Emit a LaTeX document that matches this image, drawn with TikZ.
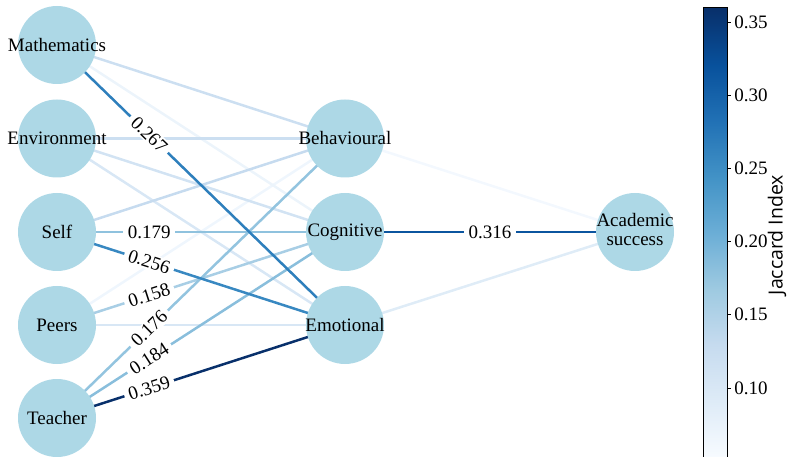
\documentclass[tikz,border=0pt]{standalone}
\usepackage{fontspec}
\setmainfont{Liberation Serif}
\newfontfamily\cbfont{Open Sans}
\usetikzlibrary{backgrounds}
\definecolor{nodeblue}{RGB}{173,216,230}
% Blues colormap stops
\definecolor{b0}{RGB}{247,251,255}
\definecolor{b1}{RGB}{222,235,247}
\definecolor{b2}{RGB}{198,219,239}
\definecolor{b3}{RGB}{158,202,225}
\definecolor{b4}{RGB}{107,174,214}
\definecolor{b5}{RGB}{66,146,198}
\definecolor{b6}{RGB}{33,113,181}
\definecolor{b7}{RGB}{8,81,156}
\definecolor{b8}{RGB}{8,48,107}
% edge colours
\definecolor{cMB}{RGB}{204,223,241}
\definecolor{cMC}{RGB}{236,244,251}
\definecolor{cME}{RGB}{46,127,188}
\definecolor{cEB}{RGB}{204,223,241}
\definecolor{cEC}{RGB}{210,227,243}
\definecolor{cEE}{RGB}{216,231,245}
\definecolor{cSB}{RGB}{198,219,239}
\definecolor{cSC}{RGB}{143,194,222}
\definecolor{cSE}{RGB}{56,136,193}
\definecolor{cPB}{RGB}{239,246,253}
\definecolor{cPC}{RGB}{168,206,229}
\definecolor{cPE}{RGB}{216,231,245}
\definecolor{cTB}{RGB}{147,196,223}
\definecolor{cTC}{RGB}{137,190,220}
\definecolor{cTE}{RGB}{8,48,107}
\definecolor{cBA}{RGB}{243,248,254}
\definecolor{cCA}{RGB}{11,85,159}
\definecolor{cEA}{RGB}{223,236,247}
\pgfdeclareverticalshading{bluescb}{100bp}{color(0bp)=(b0); color(25bp)=(b0); color(31.25bp)=(b1); color(37.5bp)=(b2); color(43.75bp)=(b3); color(50bp)=(b4); color(56.25bp)=(b5); color(62.5bp)=(b6); color(68.75bp)=(b7); color(75bp)=(b8); color(100bp)=(b8)}
\newcommand{\zw}[1]{\makebox[0pt][c]{#1}}
\begin{document}
\begin{tikzpicture}[x=1pt,y=-1pt,
  vnode/.style={circle,fill=nodeblue,minimum size=78pt,inner sep=0pt,
    font=\fontsize{19}{19}\selectfont},
  edge/.style={line width=2.5pt},
  wlabel/.style={fill=white,inner xsep=4.5pt,inner ysep=1.5pt,
    font=\fontsize{19}{19}\selectfont,sloped,pos=0.32},
  cbtick/.style={line width=0.8pt},
  cblabel/.style={anchor=west,inner xsep=3pt,font=\fontsize{19}{19}\selectfont}]
\useasboundingbox (0,0) rectangle (793,457);
% nodes
\node[vnode] (mat) at (57,45) {\zw{Mathematics}};
\node[vnode] (env) at (57,138.5) {\zw{Environment}};
\node[vnode] (slf) at (57,232) {\zw{Self}};
\node[vnode] (prs) at (57,325) {\zw{Peers}};
\node[vnode] (tch) at (57,418) {\zw{Teacher}};
\node[vnode] (beh) at (345,138.5) {\zw{Behavioural}};
\node[vnode] (cog) at (345,232) {\zw{Cognitive}};
\node[vnode] (emo) at (345,325) {\zw{Emotional}};
\node[vnode] (aca) at (635,232) {\zw{\begin{tabular}{@{}c@{}}Academic\\success\end{tabular}}};
% edges
\begin{scope}[on background layer]
\draw[edge,cBA] (beh.center) -- (aca.center);
\draw[edge,cPB] (prs.center) -- (beh.center);
\draw[edge,cMC] (mat.center) -- (cog.center);
\draw[edge,cEA] (emo.center) -- (aca.center);
\draw[edge,cEE] (env.center) -- (emo.center);
\draw[edge,cPE] (prs.center) -- (emo.center);
\draw[edge,cEC] (env.center) -- (cog.center);
\draw[edge,cMB] (mat.center) -- (beh.center);
\draw[edge,cEB] (env.center) -- (beh.center);
\draw[edge,cSB] (slf.center) -- (beh.center);
\draw[edge,cPC] (prs.center) -- (cog.center);
\draw[edge,cTB] (tch.center) -- (beh.center);
\draw[edge,cSC] (slf.center) -- (cog.center);
\draw[edge,cTC] (tch.center) -- (cog.center);
\draw[edge,cSE] (slf.center) -- (emo.center);
\draw[edge,cME] (mat.center) -- (emo.center);
\draw[edge,cCA] (cog.center) -- (aca.center);
\draw[edge,cTE] (tch.center) -- (emo.center);
\end{scope}
% edge labels
\path (mat.center) -- (emo.center) node[wlabel] (l1) {0.267};
\path (slf.center) -- (cog.center) node[wlabel] (l2) {0.179};
\path (slf.center) -- (emo.center) node[wlabel] (l3) {0.256};
\path (prs.center) -- (cog.center) node[wlabel] (l4) {0.158};
\path (tch.center) -- (beh.center) node[wlabel] (l5) {0.176};
\path (tch.center) -- (cog.center) node[wlabel] (l6) {0.184};
\path (tch.center) -- (emo.center) node[wlabel] (l7) {0.359};
\path (cog.center) -- (aca.center) node[wlabel,pos=0.5] (l8) {0.316};
% colour bar
\shade[shading=bluescb] (703,9) rectangle (727,457);
\draw[line width=0.8pt] (703,457) -- (703,7) -- (727,7) -- (727,457);
\foreach \v/\y [count=\i] in {0.10/388,0.15/314.8,0.20/241.6,0.25/168.4,0.30/95.2,0.35/22}{
  \draw[cbtick] (727,\y) -- (731,\y) node[cblabel] (t\i) {\v};
}
\node[rotate=90,font=\cbfont\fontsize{19.5}{19.5}\selectfont] (cbtitle) at (777,235) {Jaccard Index};
\end{tikzpicture}
\end{document}
